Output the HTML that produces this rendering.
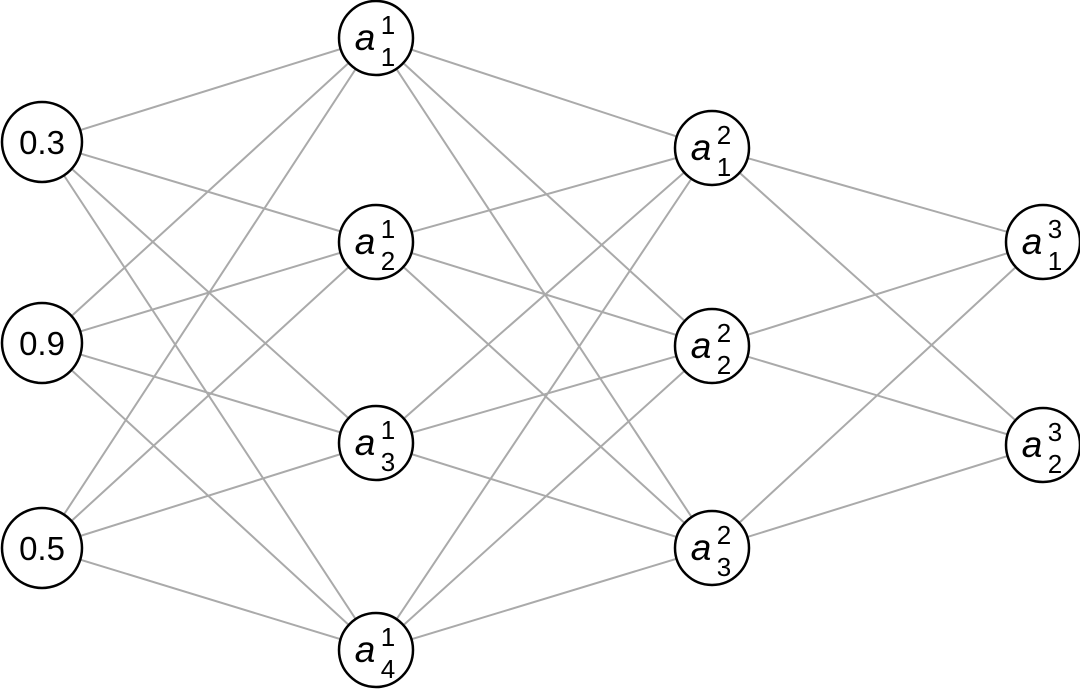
<!DOCTYPE html>
<html><head><style>body{margin:0;background:#fff}svg{display:block}</style></head><body>
<svg width="1080" height="689" xmlns="http://www.w3.org/2000/svg" font-family="Liberation Sans, sans-serif">
<path fill="none" stroke="#aaa" stroke-width="2" d="
M42 142L376 38M42 142L376 242M42 142L376 443M42 142L376 650
M42 343L376 38M42 343L376 242M42 343L376 443M42 343L376 650
M42 548L376 38M42 548L376 242M42 548L376 443M42 548L376 650
M376 38L712 148M376 38L712 346M376 38L712 548
M376 242L712 148M376 242L712 346M376 242L712 548
M376 443L712 148M376 443L712 346M376 443L712 548
M376 650L712 148M376 650L712 346M376 650L712 548
M712 148L1043 242M712 148L1043 445
M712 346L1043 242M712 346L1043 445
M712 548L1043 242M712 548L1043 445"/>
<g fill="#fff" stroke="#000" stroke-width="2.5">
<circle cx="42" cy="142" r="40"/><circle cx="42" cy="343" r="40"/><circle cx="42" cy="548" r="40"/>
<circle cx="376" cy="38" r="37"/><circle cx="376" cy="242" r="37"/><circle cx="376" cy="443" r="37"/><circle cx="376" cy="650" r="37"/>
<circle cx="712" cy="148" r="37"/><circle cx="712" cy="346" r="37"/><circle cx="712" cy="548" r="37"/>
<circle cx="1043" cy="242" r="37"/><circle cx="1043" cy="445" r="37"/>
</g>
<g font-size="33" text-anchor="middle">
<text x="42" y="154">0.3</text><text x="42" y="355">0.9</text><text x="42" y="560">0.5</text>
</g>
<g font-size="37" font-style="italic" text-anchor="middle">
<text x="365" y="50">a</text><text x="365" y="254">a</text><text x="365" y="455">a</text><text x="365" y="662">a</text>
<text x="701" y="160">a</text><text x="701" y="358">a</text><text x="701" y="560">a</text>
<text x="1032" y="254">a</text><text x="1032" y="457">a</text>
</g>
<g font-size="26" text-anchor="middle">
<text x="388" y="34">1</text><text x="388" y="66">1</text>
<text x="388" y="238">1</text><text x="388" y="270">2</text>
<text x="388" y="439">1</text><text x="388" y="471">3</text>
<text x="388" y="646">1</text><text x="388" y="678">4</text>
<text x="724" y="144">2</text><text x="724" y="176">1</text>
<text x="724" y="342">2</text><text x="724" y="374">2</text>
<text x="724" y="544">2</text><text x="724" y="576">3</text>
<text x="1055" y="238">3</text><text x="1055" y="270">1</text>
<text x="1055" y="441">3</text><text x="1055" y="473">2</text>
</g>
</svg></body></html>
